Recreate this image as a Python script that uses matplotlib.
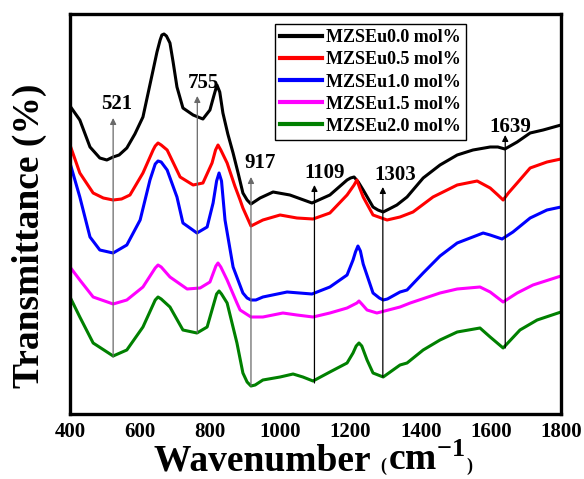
import matplotlib
matplotlib.use("Agg")
import matplotlib.pyplot as plt
from matplotlib.offsetbox import TextArea, HPacker, AnchoredOffsetbox

plt.rcParams['font.family'] = ['Liberation Serif', 'DejaVu Serif']
plt.rcParams['font.weight'] = 'bold'
plt.rcParams['mathtext.fontset'] = 'custom'
plt.rcParams['mathtext.rm'] = 'Liberation Serif:bold'
plt.rcParams['mathtext.bf'] = 'Liberation Serif:bold'
plt.rcParams['mathtext.default'] = 'rm'

# FTIR spectra (arbitrary transmittance units, curves offset)
wn_00 = [400, 428, 457, 485, 505, 523, 540, 562, 585, 608, 637, 648, 657, 662, 668, 675, 685, 694, 705,
         722, 751, 779, 799, 810, 819, 827, 836, 850, 865, 880, 893, 905, 916, 942, 979, 1027, 1090,
         1141, 1190, 1200, 1210, 1222, 1236, 1264, 1278, 1293, 1310, 1332, 1361, 1407, 1455, 1504,
         1549, 1598, 1620, 1640, 1675, 1712, 1749, 1800]
t_00 = [308, 294, 267, 256, 254, 257, 259, 266, 280, 297, 344, 362, 374, 379, 380, 378, 371, 352, 327,
        306, 299, 295, 304, 318, 329, 322, 301, 280, 261, 240, 221, 214, 210, 216, 222, 219, 211,
        219, 234, 236, 237, 232, 224, 207, 204, 202, 205, 209, 217, 236, 249, 259,
        264, 267, 267, 265, 272, 281, 284, 289]

wn_05 = [400, 428, 466, 495, 523, 547, 571, 608, 637, 643, 651, 660, 677, 714, 751, 779, 805, 815, 822,
         830, 848, 870, 885, 893, 916, 950, 999, 1047, 1093, 1141, 1190, 1210, 1218, 1226, 1236, 1264,
         1304, 1341, 1378, 1435, 1504, 1561, 1598, 1620, 1635, 1650, 1675, 1712, 1760, 1800]
t_05 = [269, 241, 221, 216, 214, 215, 219, 241, 264, 268, 271, 269, 264, 237, 229, 231, 251, 264, 269,
        264, 251, 228, 214, 206, 188, 194, 199, 196, 195, 201, 219, 229, 234, 226, 217, 199,
        194, 197, 202, 217, 229, 233, 226, 219, 214, 221, 231, 246, 252, 255]

wn_10 = [400, 428, 457, 485, 523, 562, 600, 628, 643, 651, 660, 677, 705, 722, 762, 791, 808, 818, 825,
         832, 842, 865, 893, 905, 916, 930, 950, 1019, 1090, 1141, 1190, 1207, 1214, 1221, 1228, 1236,
         1264, 1282, 1293, 1305, 1341, 1361, 1407, 1455, 1504, 1578, 1598, 1632, 1663, 1712, 1760, 1800]
t_10 = [251, 217, 177, 164, 161, 169, 194, 234, 250, 253, 252, 244, 217, 191, 181, 187, 211, 233, 241,
        233, 194, 147, 121, 116, 114, 114, 117, 122, 120, 127, 139, 154, 162, 168, 163, 150,
        121, 116, 114, 115, 122, 124, 141, 158, 171, 181, 179, 175, 182, 196, 204, 207]

wn_15 = [400, 428, 466, 523, 562, 608, 643, 651, 660, 685, 734, 771, 799, 816, 822, 830, 848, 876, 885,
         916, 950, 1007, 1047, 1093, 1141, 1190, 1218, 1224, 1232, 1247, 1275, 1341, 1370, 1455, 1504,
         1569, 1598, 1635, 1675, 1720, 1800]
t_15 = [147, 134, 117, 110, 114, 127, 146, 149, 147, 137, 125, 126, 132, 148, 151, 147, 134, 111, 104,
        97, 97, 101, 99, 97, 101, 106, 111, 113, 110, 104, 101, 107, 111, 121, 125,
        127, 122, 112, 121, 129, 138]

wn_20 = [400, 428, 466, 523, 562, 608, 643, 651, 660, 685, 722, 762, 791, 818, 825, 832, 848, 876, 893,
         905, 916, 928, 950, 999, 1036, 1064, 1093, 1141, 1190, 1207, 1216, 1224, 1232, 1247, 1264,
         1293, 1341, 1361, 1407, 1455, 1504, 1569, 1598, 1635, 1683, 1732, 1800]
t_20 = [117, 97, 71, 58, 64, 87, 114, 117, 115, 107, 84, 81, 87, 120, 123, 120, 111, 71, 41,
        32, 28, 29, 34, 37, 40, 37, 33, 42, 51, 61, 68, 71, 68, 54, 41,
        37, 49, 51, 64, 74, 82, 86, 77, 66, 84, 94, 102]

labels = ['MZSEu0.0 mol%', 'MZSEu0.5 mol%', 'MZSEu1.0 mol%', 'MZSEu1.5 mol%', 'MZSEu2.0 mol%']
colors = ['black', 'red', 'blue', 'magenta', 'green']

# peak markers: text, line position, arrow bottom, arrow top, label x, label y
peak_text = ['521', '755', '917', '1109', '1303', '1639']
peak_x = [523, 763, 916, 1097, 1292, 1641]
peak_lo = [57, 81, 28, 31, 37, 66]
peak_hi = [296, 318, 237, 229, 227, 279]
peak_lx = [534, 779, 942, 1127, 1327, 1655]
peak_ly = [310, 331, 251, 241, 239, 287]
peak_col = ['dimgray', 'dimgray', 'dimgray', 'black', 'black', 'black']

fig = plt.figure(figsize=(5.84, 4.79), dpi=100)
ax = fig.add_axes([70 / 584, 65 / 479, 491 / 584, 400 / 479])

series = [(wn_00, t_00), (wn_05, t_05), (wn_10, t_10), (wn_15, t_15), (wn_20, t_20)]
for (x, y), lab, c in zip(series, labels, colors):
    ax.plot(x, y, color=c, lw=2.2, label=lab, solid_joinstyle='round')

for txt, x, lo, hi, lx, ly, c in zip(peak_text, peak_x, peak_lo, peak_hi, peak_lx, peak_ly, peak_col):
    ax.annotate('', xy=(x, hi), xytext=(x, lo),
                arrowprops=dict(arrowstyle='-|>', color=c, lw=0.9, mutation_scale=9, shrinkA=0, shrinkB=0))
    ax.text(lx, ly, txt, ha='center', va='center', fontsize=15, fontweight='bold')

ax.set_xlim(400, 1800)
ax.set_ylim(0, 400)
ax.set_xticks([400, 600, 800, 1000, 1200, 1400, 1600, 1800])
ax.set_yticks([])
ax.tick_params(axis='x', length=0, pad=6, labelsize=15)
for lbl in ax.get_xticklabels():
    lbl.set_fontweight('bold')
for s in ax.spines.values():
    s.set_linewidth(2.4)

leg = ax.legend(loc='upper left', bbox_to_anchor=(0.4175, 0.975), fontsize=13, frameon=True,
                fancybox=False, edgecolor='black', framealpha=1, handlelength=2.3,
                handletextpad=0.2, labelspacing=0.28, borderpad=0.3, borderaxespad=0)
leg.get_frame().set_linewidth(1.0)
for line in leg.get_lines():
    line.set_linewidth(3)
for t in leg.get_texts():
    t.set_fontweight('bold')

fig.text(29 / 584, 1 - 236 / 479, 'Transmittance (%)', rotation=90, ha='center', va='center',
         fontsize=27, fontweight='bold')

# x label with small brackets
parts = [TextArea('Wavenumber ', textprops=dict(fontsize=27, fontweight='bold')),
         TextArea('(', textprops=dict(fontsize=13)),
         TextArea('cm$^{-1}$', textprops=dict(fontsize=27, fontweight='bold')),
         TextArea(')', textprops=dict(fontsize=13))]
box = HPacker(children=parts, align='baseline', pad=0, sep=1)
anch = AnchoredOffsetbox(loc='center', child=box, pad=0, frameon=False,
                         bbox_to_anchor=(313 / 584, 1 - 461 / 479), bbox_transform=fig.transFigure,
                         borderpad=0)
fig.add_artist(anch)

fig.savefig('out.png', dpi=100)
